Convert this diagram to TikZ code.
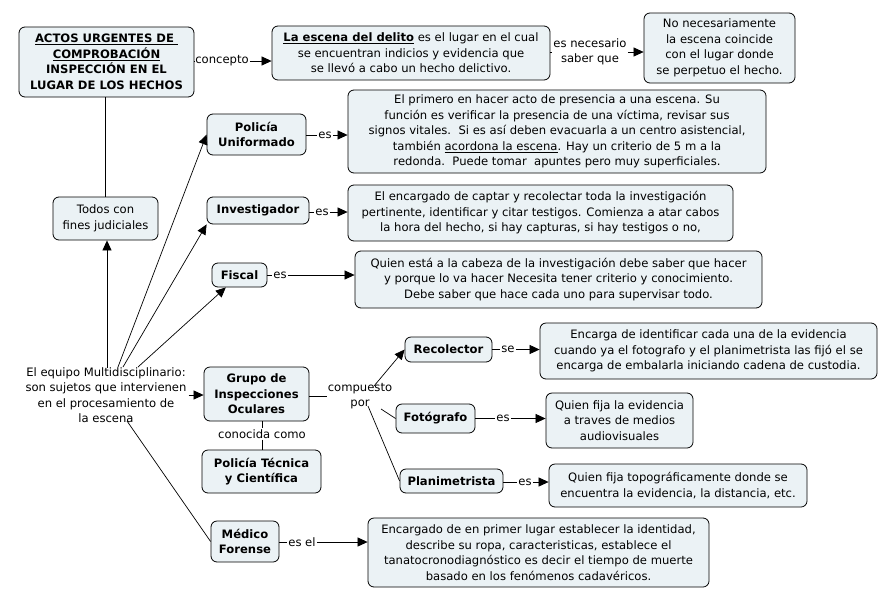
\documentclass[tikz,border=0pt]{standalone}
\usepackage{fontspec}
\setmainfont{DejaVu Sans}
\usetikzlibrary{arrows.meta,calc}
\definecolor{boxfill}{RGB}{235,242,245}
\tikzset{
 cbox/.style={draw, fill=boxfill, rounded corners=6pt, line width=0.8pt, align=center, inner sep=0pt},
 lbl/.style={inner sep=1pt, align=center},
 arr/.style={-{Triangle[length=10pt,width=9pt]}, line width=0.7pt},
 ln/.style={line width=0.7pt},
}
\begin{document}
\begin{tikzpicture}[x=1pt,y=-1pt, font=\fontsize{11.6}{15.5}\selectfont]
\useasboundingbox (0,0) rectangle (893,589);

% boxes
\node[cbox, minimum width=175pt, minimum height=70pt] (actos) at (106.5,62)
 {\textbf{\underline{ACTOS URGENTES DE\ }}\\\textbf{\underline{COMPROBACIÓN}}\\\textbf{INSPECCIÓN EN EL}\\\textbf{LUGAR DE LOS HECHOS}};
\node[cbox, minimum width=278pt, minimum height=54pt] (escena) at (411,53)
 {\textbf{\underline{La escena del delito}} es el lugar en el cual\\se encuentran indicios y evidencia que\\se llevó a cabo un hecho delictivo.};
\node[cbox, minimum width=151pt, minimum height=70pt] (nonec) at (719.5,48)
 {No necesariamente\\la escena coincide\\con el lugar donde\\se perpetuo el hecho.};
\node[cbox, minimum width=105pt, minimum height=43pt] (todos) at (105.5,218.5)
 {Todos con\\fines judiciales};
\node[align=center, inner sep=2pt] (equipo) at (106,395)
 {El equipo Multidisciplinario:\\son sujetos que intervienen\\en el procesamiento de\\la escena};
\node[cbox, minimum width=99pt, minimum height=41pt] (policia) at (256.5,134.5)
 {\textbf{Policía}\\\textbf{Uniformado}};
\node[cbox, minimum width=418pt, minimum height=83pt] (primero) at (557,131.5)
 {El primero en hacer acto de presencia a una escena. Su\\función es verificar la presencia de una víctima, revisar sus\\signos vitales.\ \ Si es así deben evacuarla a un centro asistencial,\\también \underline{acordona la escena}. Hay un criterio de 5 m a la\\redonda.\ \ Puede tomar\ \ apuntes pero muy superficiales.};
\node[cbox, minimum width=102pt, minimum height=27pt] (invest) at (258,210.5)
 {\textbf{Investigador}};
\node[cbox, minimum width=385pt, minimum height=56pt] (encargado) at (540.5,213)
 {El encargado de captar y recolectar toda la investigación\\pertinente, identificar y citar testigos. Comienza a atar cabos\\la hora del hecho, si hay capturas, si hay testigos o no,};
\node[cbox, minimum width=55pt, minimum height=24pt] (fiscal) at (239.5,275)
 {\textbf{Fiscal}};
\node[cbox, minimum width=407pt, minimum height=57pt] (quienesta) at (558.5,279.5)
 {Quien está a la cabeza de la investigación debe saber que hacer\\y porque lo va hacer Necesita tener criterio y conocimiento.\\Debe saber que hace cada uno para supervisar todo.};
\node[cbox, minimum width=105pt, minimum height=54pt] (grupo) at (256.5,394)
 {\textbf{Grupo de}\\\textbf{Inspecciones}\\\textbf{Oculares}};
\node[cbox, minimum width=119pt, minimum height=43pt] (ptc) at (261.5,471.5)
 {\textbf{Policía Técnica}\\\textbf{y Científica}};
\node[cbox, minimum width=87pt, minimum height=25pt] (recolector) at (448.5,349.5)
 {\textbf{Recolector}};
\node[cbox, minimum width=337pt, minimum height=56pt] (encarga) at (708.5,351)
 {Encarga de identificar cada una de la evidencia\\cuando ya el fotografo y el planimetrista las fijó el se\\encarga de embalarla iniciando cadena de custodia.};
\node[cbox, minimum width=79pt, minimum height=29pt] (fotografo) at (435.5,418.5)
 {\textbf{Fotógrafo}};
\node[cbox, minimum width=147pt, minimum height=55pt] (quienfija) at (619.5,420.5)
 {Quien fija la evidencia\\a traves de medios\\audiovisuales};
\node[cbox, minimum width=103pt, minimum height=24pt] (planim) at (451.5,481)
 {\textbf{Planimetrista}};
\node[cbox, minimum width=258pt, minimum height=43pt] (topog) at (678,485.5)
 {Quien fija topográficamente donde se\\encuentra la evidencia, la distancia, etc.};
\node[cbox, minimum width=68pt, minimum height=41pt] (medico) at (245,541.5)
 {\textbf{Médico}\\\textbf{Forense}};
\node[cbox, minimum width=341pt, minimum height=69pt] (encen) at (538.5,552.5)
 {Encargado de en primer lugar establecer la identidad,\\describe su ropa, caracteristicas, establece el\\tanatocronodiagnóstico es decir el tiempo de muerte\\basado en los fenómenos cadavéricos.};

% link labels
\node[lbl] (lconc) at (222,61) {concepto};
\node[lbl] (lnec) at (590,52) {es necesario\\saber que};
\node[lbl] (les1) at (325,135) {es};
\node[lbl] (les2) at (322,212) {es};
\node[lbl] (les3) at (280,275) {es};
\node[lbl] (lconoc) at (262,434) {conocida como};
\node[lbl] (lcomp) at (360,396) {compuesto\\por};
\node[lbl] (lse) at (508,349.5) {se};
\node[lbl] (les4) at (503,418.5) {es};
\node[lbl] (les5) at (525,482) {es};
\node[lbl] (lesel) at (302,542) {es el};

% free ends
\coordinate (e0) at (107,368);
\coordinate (e1) at (118,367);
\coordinate (e2) at (123,367);
\coordinate (e3) at (138,367);
\coordinate (e5) at (127,421);
\coordinate (c1) at (374,386);
\coordinate (c2) at (381,409);
\coordinate (c3) at (368,406);

% connectors
\draw[ln] (actos.east |- lconc) -- (lconc);
\draw[arr] (lconc) -- (lconc -| escena.west);
\draw[ln] (escena.east |- lnec) -- (lnec);
\draw[arr] (lnec) -- (lnec -| nonec.west);
\draw[ln] (actos.south -| todos.north) -- (todos.north);
\draw[arr] (e0) -- (e0 |- todos.south);
\draw[arr] (e1) -- (policia.west);
\draw[arr] (e2) -- (invest.south west);
\draw[arr] (e3) -- (fiscal);
\draw[arr] (equipo.east) -- (equipo.east -| grupo.west);
\draw[ln] (e5) -- (medico.west);

\draw[ln] (policia.east |- les1) -- (les1);
\draw[arr] (les1) -- (les1 -| primero.west);
\draw[ln] (invest.east |- les2) -- (les2);
\draw[arr] (les2) -- (les2 -| encargado.west);
\draw[ln] (fiscal.east |- les3) -- (les3);
\draw[arr] (les3) -- (les3 -| quienesta.west);

\draw[ln] (grupo.south -| lconoc) -- (lconoc);
\draw[ln] (lconoc) -- (lconoc |- ptc.north);
\draw[ln] (grupo.east |- lcomp) -- (lcomp);
\draw[arr] (c1) -- (recolector.west);
\draw[ln] (c2) -- (fotografo.west);
\draw[ln] (c3) -- (planim.west);

\draw[ln] (recolector.east |- lse) -- (lse);
\draw[arr] (lse) -- (lse -| encarga.west);
\draw[ln] (fotografo.east |- les4) -- (les4);
\draw[arr] (les4) -- (les4 -| quienfija.west);
\draw[ln] (planim.east |- les5) -- (les5);
\draw[arr] (les5) -- (les5 -| topog.west);
\draw[ln] (medico.east |- lesel) -- (lesel);
\draw[arr] (lesel) -- (lesel -| encen.west);
\end{tikzpicture}
\end{document}
